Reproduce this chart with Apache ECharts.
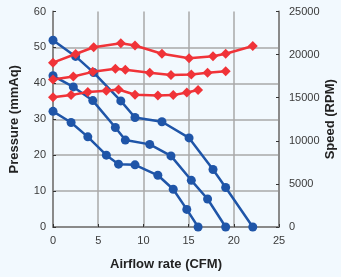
<!DOCTYPE html>
<html>
<head>
<meta charset="utf-8">
<script src="https://cdn.jsdelivr.net/npm/echarts@6/dist/echarts.min.js"></script>
<style>
  html, body { margin: 0; padding: 0; background: #f2f9fe; }
  #chart { width: 341px; height: 277px; }
</style>
</head>
<body>
<div id="chart"></div>
<script>
// fan curves: pressure (left axis) and speed (right axis) vs airflow
var flowHigh = [0, 2.5, 4.5, 7.5, 9.07, 12.05, 15.05, 17.7, 19.1, 22.1];
var pressHigh = [52, 47.5, 43, 35.1, 30.5, 29.3, 24.8, 16, 11, 0];
var speedHigh = [19060, 20070, 20850, 21310, 21060, 20100, 19570, 19800, 20100, 21000];

var flowMid = [0, 2.25, 4.4, 6.9, 8.0, 10.7, 13.05, 15.3, 17.1, 19.1];
var pressMid = [42.1, 39, 35.2, 27.7, 24.2, 23, 19.8, 13, 7.8, 0];
var speedMid = [17100, 17450, 18000, 18350, 18250, 17900, 17630, 17700, 17900, 18060];

var flowLow = [0, 2.0, 3.85, 5.9, 7.25, 9.07, 11.6, 13.3, 14.8, 16.05];
var pressLow = [32.2, 29.1, 25.1, 20, 17.5, 17.3, 14.4, 10.5, 4.9, 0];
var speedLow = [15050, 15300, 15650, 15800, 15950, 15350, 15250, 15300, 15600, 15900];

var xTicks = [0, 5, 10, 15, 20, 25];

function pairs(xs, ys) {
  return xs.map(function (x, i) { return [x, ys[i]]; });
}

var blue = '#1f55a8';
var red = '#f03338';

function pressureSeries(xs, ys) {
  return {
    type: 'line', yAxisIndex: 0, data: pairs(xs, ys),
    symbol: 'circle', symbolSize: 9,
    lineStyle: { color: blue, width: 2.5 },
    itemStyle: { color: blue },
    z: 2
  };
}
function speedSeries(xs, ys) {
  return {
    type: 'line', yAxisIndex: 1, data: pairs(xs, ys),
    symbol: 'diamond', symbolSize: [10, 10],
    lineStyle: { color: red, width: 2.5 },
    itemStyle: { color: red },
    z: 3
  };
}

var axisText = { color: '#3a3a3a', fontSize: 11, fontFamily: 'Liberation Sans' };
var nameText = { color: '#222', fontSize: 13, fontWeight: 'bold', fontFamily: 'Liberation Sans' };

var chart = echarts.init(document.getElementById('chart'));
chart.setOption({
  animation: false,
  backgroundColor: '#f2f9fe',
  grid: { left: 53, right: 62, top: 11.5, bottom: 50, containLabel: false, outerBoundsMode: 'none' },
  xAxis: {
    type: 'value', min: 0, max: 25, interval: 5,
    name: 'Airflow rate (CFM)', nameLocation: 'middle', nameGap: 31,
    nameTextStyle: nameText,
    axisLine: { show: true, onZero: false, lineStyle: { color: '#8a8a8a', width: 2 } },
    axisTick: { show: true, inside: true, length: 3, lineStyle: { color: '#333' } },
    axisLabel: Object.assign({ margin: 8, formatter: function (v) { return xTicks.indexOf(v) >= 0 ? String(v) : ''; } }, axisText),
    splitLine: { show: true, showMinLine: false, showMaxLine: false, lineStyle: { color: '#a8a8a8', width: 1.5 } }
  },
  yAxis: [
    {
      type: 'value', min: 0, max: 60, interval: 10, position: 'left',
      name: 'Pressure (mmAq)', nameLocation: 'middle', nameGap: 32, nameRotate: 90,
      nameTextStyle: nameText,
      axisLine: { show: true, lineStyle: { color: '#8a8a8a', width: 2 } },
      axisTick: { show: true, inside: true, length: 3, lineStyle: { color: '#333' } },
      axisLabel: Object.assign({ margin: 7 }, axisText),
      splitLine: { show: true, showMinLine: false, showMaxLine: false, lineStyle: { color: '#a8a8a8', width: 1.5 } }
    },
    {
      type: 'value', min: 0, max: 25000, interval: 5000, position: 'right',
      name: 'Speed (RPM)', nameLocation: 'middle', nameGap: 45, nameRotate: 90,
      nameMoveOverlap: false,
      nameTextStyle: nameText,
      axisLine: { show: true, lineStyle: { color: '#8a8a8a', width: 2 } },
      axisTick: { show: true, inside: true, length: 3, lineStyle: { color: '#333' } },
      axisLabel: Object.assign({ margin: 10, formatter: function (v) { return String(v); } }, axisText),
      splitLine: { show: false }
    }
  ],
  series: [
    pressureSeries(flowHigh, pressHigh),
    pressureSeries(flowMid, pressMid),
    pressureSeries(flowLow, pressLow),
    speedSeries(flowHigh, speedHigh),
    speedSeries(flowMid, speedMid),
    speedSeries(flowLow, speedLow)
  ]
});
</script>
</body>
</html>
